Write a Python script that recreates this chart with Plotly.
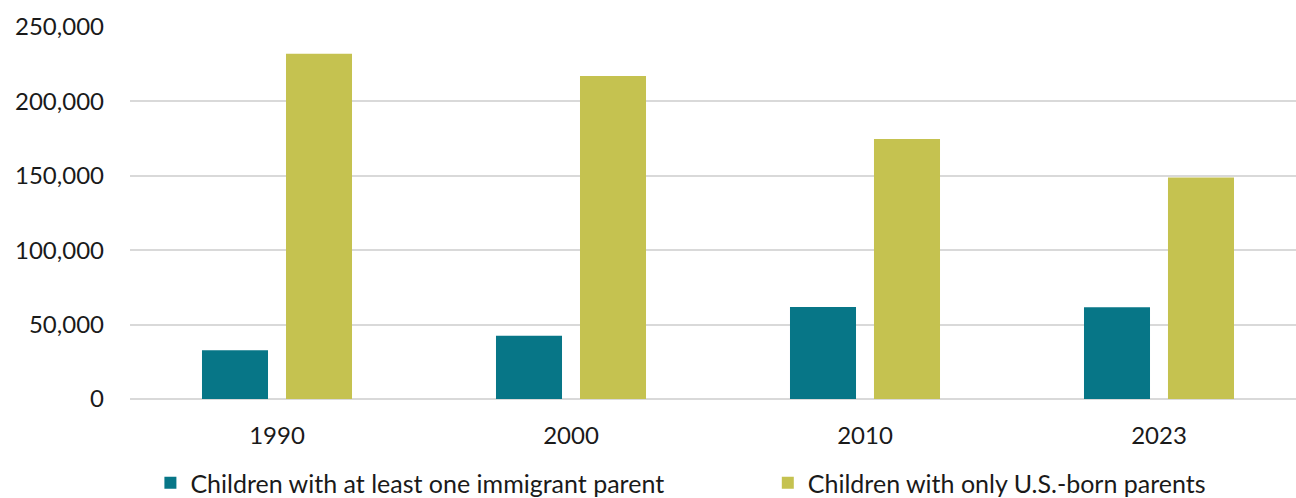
import plotly.graph_objects as go

years = ["1990", "2000", "2010", "2023"]
immigrant_parent = [32700, 42500, 61800, 61600]
us_born_parents = [232000, 217000, 174700, 148800]
y_ticks = [0, 50000, 100000, 150000, 200000, 250000]
y_tick_labels = ["0", "50,000", "100,000", "150,000", "200,000", "250,000"]

TEAL = "#077687"
OLIVE = "#C5C250"
FONT = "Lato"

fig = go.Figure()
fig.add_trace(go.Bar(x=years, y=immigrant_parent, name="Children with at least one immigrant parent",
                     marker=dict(color=TEAL, line=dict(width=0)), legend="legend"))
fig.add_trace(go.Bar(x=years, y=us_born_parents, name="Children with only U.S.-born parents",
                     marker=dict(color=OLIVE, line=dict(width=0)), legend="legend2"))

legend_common = dict(orientation="h", xanchor="left", y=-0.226, yanchor="middle",
                     yref="paper", font=dict(size=25, family=FONT, color="#1a1a1a"),
                     itemclick=False, bgcolor="rgba(0,0,0,0)")

fig.update_layout(
    width=1296, height=498,
    margin=dict(l=130, r=0, t=27, b=99, autoexpand=False),
    paper_bgcolor="white", plot_bgcolor="white",
    barmode="group", bargap=0.4286, bargroupgap=0.214,
    font=dict(family=FONT, color="#1a1a1a", size=24),
    showlegend=True,
    legend=dict(x=0.0175, **legend_common),
    legend2=dict(x=0.5470, **legend_common),
    xaxis=dict(type="category", range=[-0.5, 3.466], showgrid=False, showline=False,
               ticks="", tickfont=dict(size=24, family=FONT, color="#1a1a1a"),
               ticklabelstandoff=20),
    yaxis=dict(range=[0, 250000], tickvals=y_ticks, ticktext=y_tick_labels,
               showgrid=True, gridcolor="#d9d9d9", gridwidth=2,
               zeroline=True, zerolinecolor="#d9d9d9", zerolinewidth=2,
               showline=False, ticks="", ticklabelstandoff=25,
               tickfont=dict(size=24, family=FONT, color="#1a1a1a")),
)

fig.write_html("out.html")
